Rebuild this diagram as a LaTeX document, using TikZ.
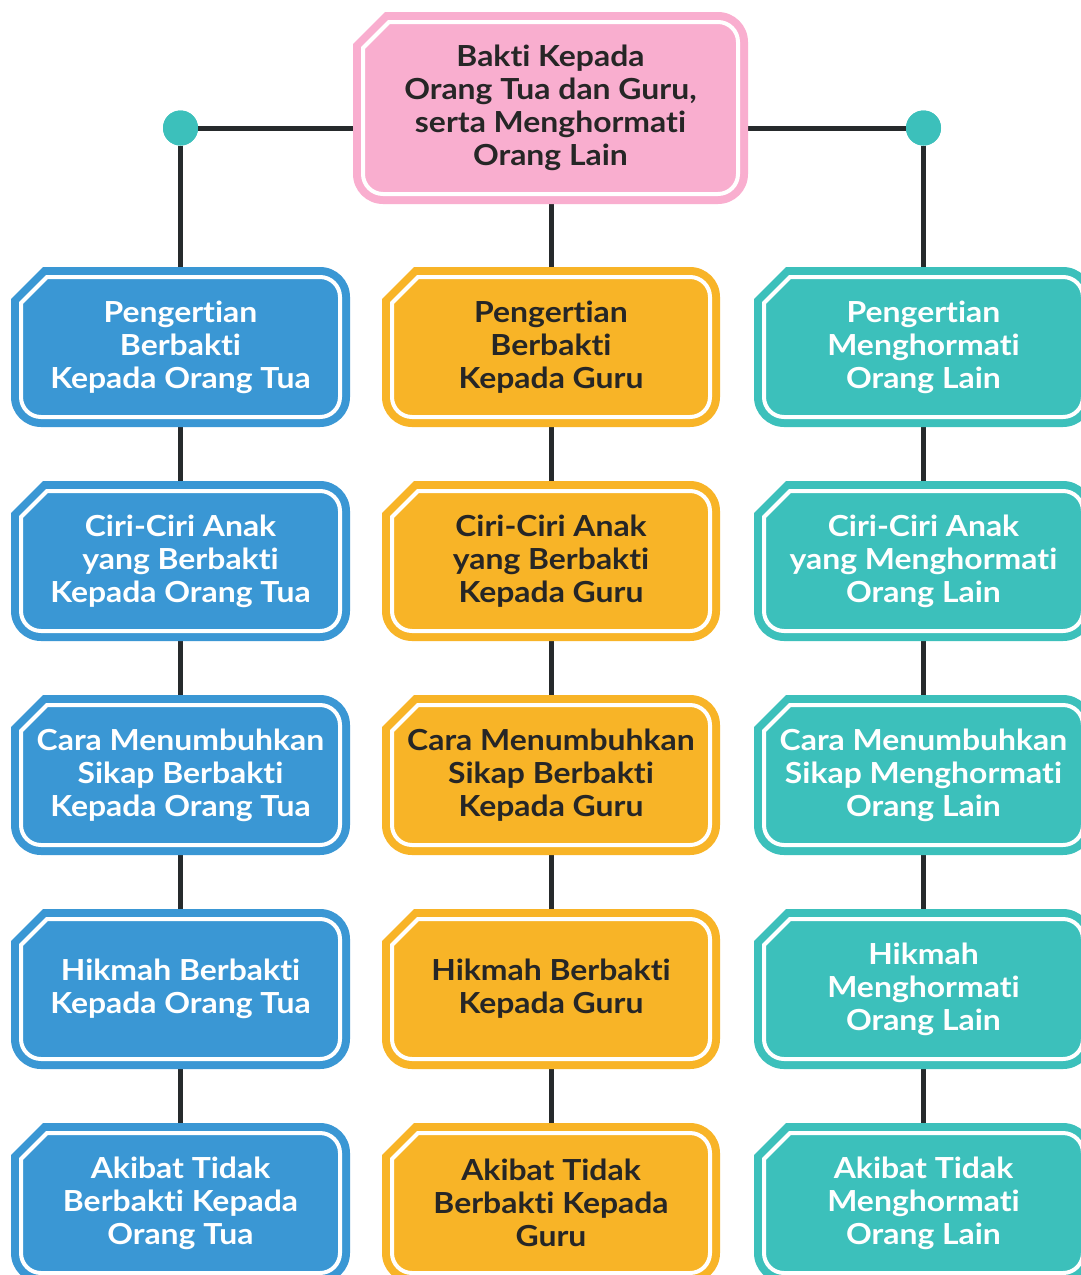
\documentclass[tikz,border=0pt]{standalone}
\usepackage{fontspec}
\setmainfont{Lato}[Ligatures={NoCommon},FakeStretch=1.1]
\definecolor{cblue}{HTML}{3A97D4}
\definecolor{corange}{HTML}{F8B427}
\definecolor{cteal}{HTML}{3CC0BB}
\definecolor{cpink}{HTML}{F9AECF}
\definecolor{cline}{HTML}{262A2C}
\definecolor{ctext}{HTML}{262626}
\newcommand\ch{32}
\newcommand\rr{30}
% #1 name, #2 L, #3 T, #4 R, #5 B (pixel coords, y down), #6 fill, #7 text colour, #8 text
\newcommand\bkbox[8]{%
  \path[fill=#6] (#2,-#3-\ch) -- (#2+\ch,-#3) -- (#4-\rr,-#3)
    arc[start angle=90,end angle=0,radius=\rr] -- (#4,-#5+\rr)
    arc[start angle=0,end angle=-90,radius=\rr] -- (#2+\rr,-#5)
    arc[start angle=-90,end angle=-180,radius=\rr] -- cycle;
  \draw[white,line width=4] (#2+10,-#3-\ch-4) -- (#2+\ch+4,-#3-10) -- (#4-\rr,-#3-10)
    arc[start angle=90,end angle=0,radius=\rr-10] -- (#4-10,-#5+\rr)
    arc[start angle=0,end angle=-90,radius=\rr-10] -- (#2+\rr,-#5+10)
    arc[start angle=-90,end angle=-180,radius=\rr-10] -- cycle;
  \node[boxtext,text=#7,minimum width={#4-#2},minimum height={#5-#3}] (#1) at ({(#2+#4)/2},{-(#3+#5)/2}) {#8};
}
\tikzset{
  boxtext/.style={rectangle,inner sep=0pt,align=center,font=\bfseries\fontsize{29}{33}\selectfont},
  conn/.style={draw=cline,line width=5},
  dot/.style={circle,fill=cteal,inner sep=0pt,minimum size=35}
}
\begin{document}
\begin{tikzpicture}[x=1pt,y=1pt]
\useasboundingbox (0,0) rectangle (1081,-1275);
\clip (0,0) rectangle (1081,-1275);
\fill[white] (0,0) rectangle (1081,-1275);
% connectors (drawn first, boxes on top)
\node[dot] (dl) at (180.5,-128) {};
\node[dot] (dr) at (923.5,-128) {};
\coordinate (tl) at (360,-128);
\coordinate (tr) at (740,-128);
\draw[conn] (dl) -- (tl);
\draw[conn] (tr) -- (dr);
\coordinate (tb) at (551,-200);
\coordinate (lt) at (180.5,-270);
\coordinate (ct) at (551,-270);
\coordinate (rt) at (923.5,-270);
\draw[conn] (dl) -- (lt);
\draw[conn] (dr) -- (rt);
\draw[conn] (tb) -- (ct);
\foreach \x in {180.5,551,923.5}{
  \draw[conn] (\x,-420) -- (\x,-488);
  \draw[conn] (\x,-634) -- (\x,-702);
  \draw[conn] (\x,-848) -- (\x,-916);
  \draw[conn] (\x,-1062) -- (\x,-1130);
}
\node[dot] at (180.5,-128) {};
\node[dot] at (923.5,-128) {};
% top box
\bkbox{top}{353}{12}{748}{204}{cpink}{ctext}{Bakti Kepada\\Orang Tua dan Guru,\\serta Menghormati\\Orang Lain}
% left column
\bkbox{l1}{11}{267}{350}{427}{cblue}{white}{Pengertian\\Berbakti\\Kepada Orang Tua}
\bkbox{l2}{11}{481}{350}{641}{cblue}{white}{Ciri-Ciri Anak\\yang Berbakti\\Kepada Orang Tua}
\bkbox{l3}{11}{695}{350}{855}{cblue}{white}{Cara Menumbuhkan\\Sikap Berbakti\\Kepada Orang Tua}
\bkbox{l4}{11}{909}{350}{1069}{cblue}{white}{Hikmah Berbakti\\Kepada Orang Tua}
\bkbox{l5}{11}{1123}{350}{1283}{cblue}{white}{Akibat Tidak\\Berbakti Kepada\\Orang Tua}
% centre column
\bkbox{c1}{382}{267}{720}{427}{corange}{ctext}{Pengertian\\Berbakti\\Kepada Guru}
\bkbox{c2}{382}{481}{720}{641}{corange}{ctext}{Ciri-Ciri Anak\\yang Berbakti\\Kepada Guru}
\bkbox{c3}{382}{695}{720}{855}{corange}{ctext}{Cara Menumbuhkan\\Sikap Berbakti\\Kepada Guru}
\bkbox{c4}{382}{909}{720}{1069}{corange}{ctext}{Hikmah Berbakti\\Kepada Guru}
\bkbox{c5}{382}{1123}{720}{1283}{corange}{ctext}{Akibat Tidak\\Berbakti Kepada\\Guru}
% right column
\bkbox{r1}{754}{267}{1093}{427}{cteal}{white}{Pengertian\\Menghormati\\Orang Lain}
\bkbox{r2}{754}{481}{1093}{641}{cteal}{white}{Ciri-Ciri Anak\\yang Menghormati\\Orang Lain}
\bkbox{r3}{754}{695}{1093}{855}{cteal}{white}{Cara Menumbuhkan\\Sikap Menghormati\\Orang Lain}
\bkbox{r4}{754}{909}{1093}{1069}{cteal}{white}{Hikmah\\Menghormati\\Orang Lain}
\bkbox{r5}{754}{1123}{1093}{1283}{cteal}{white}{Akibat Tidak\\Menghormati\\Orang Lain}
\end{tikzpicture}
\end{document}
